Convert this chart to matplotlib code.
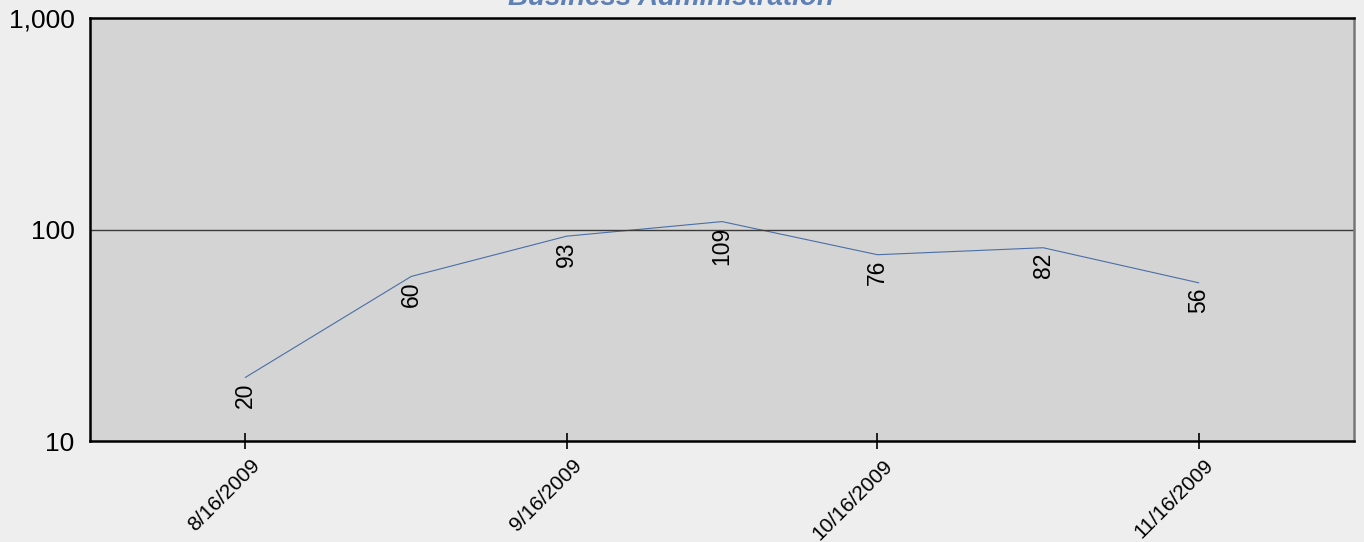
import matplotlib.pyplot as plt
from matplotlib.ticker import FixedLocator, NullLocator
import datetime as dt

# Business Administration counts, semi-monthly
dates = [dt.date(2009, 8, 16), dt.date(2009, 9, 1), dt.date(2009, 9, 16),
         dt.date(2009, 10, 1), dt.date(2009, 10, 16), dt.date(2009, 11, 1),
         dt.date(2009, 11, 16)]
values = [20, 60, 93, 109, 76, 82, 56]
tick_dates = [dt.date(2009, 8, 16), dt.date(2009, 9, 16),
              dt.date(2009, 10, 16), dt.date(2009, 11, 16)]
tick_labels = ['8/16/2009', '9/16/2009', '10/16/2009', '11/16/2009']
y_ticks = [10, 100, 1000]
y_labels = ['10', '100', '1,000']

plt.rcParams['font.family'] = ['Liberation Sans', 'DejaVu Sans']

fig = plt.figure(figsize=(13.64, 5.42), dpi=100, facecolor='#eeeeee')
ax = fig.add_axes([0.066, 0.1863, 0.9927 - 0.066, 0.9668 - 0.1863])
ax.set_facecolor('#d4d4d4')

ax.plot(dates, values, color='#4a6fa5', lw=0.8)
for d, v in zip(dates, values):
    ax.annotate(str(v), (d, v), xytext=(0, -3.5), textcoords='offset points',
                rotation=90, ha='center', va='top', fontsize=16.5)

ax.set_yscale('log')
ax.set_ylim(10, 1000)
ax.yaxis.set_major_locator(FixedLocator(y_ticks))
ax.yaxis.set_minor_locator(NullLocator())
ax.set_yticklabels(y_labels, fontsize=19)
ax.tick_params(axis='y', length=0, pad=11)
ax.axhline(100, color='#3a3a3a', lw=1)

ax.set_xlim(dt.date(2009, 8, 1), dt.date(2009, 12, 1))
ax.set_xticks(tick_dates)
ax.set_xticklabels([])
ax.xaxis.set_minor_locator(NullLocator())
ax.tick_params(axis='x', direction='inout', length=11, width=1.2)
# rotated date labels, anchored a little right of each tick
for d, t in zip(tick_dates, tick_labels):
    ax.annotate(t, (d, 0), xycoords=('data', 'axes fraction'),
                xytext=(8.6, -15.5), textcoords='offset points',
                rotation=45, rotation_mode='anchor', ha='right', va='center',
                fontsize=15, annotation_clip=False)

for s in ['left', 'bottom', 'top']:
    ax.spines[s].set_color('black')
    ax.spines[s].set_linewidth(1.8)
ax.spines['right'].set_color('#777777')
ax.spines['right'].set_linewidth(1.8)

fig.text(0.492, 1 - 5 / 542, 'Business Administration', ha='center',
         va='baseline', fontsize=20, fontweight='bold', fontstyle='italic',
         color='#5f80b5')

fig.savefig('out.png', dpi=100, facecolor=fig.get_facecolor())
